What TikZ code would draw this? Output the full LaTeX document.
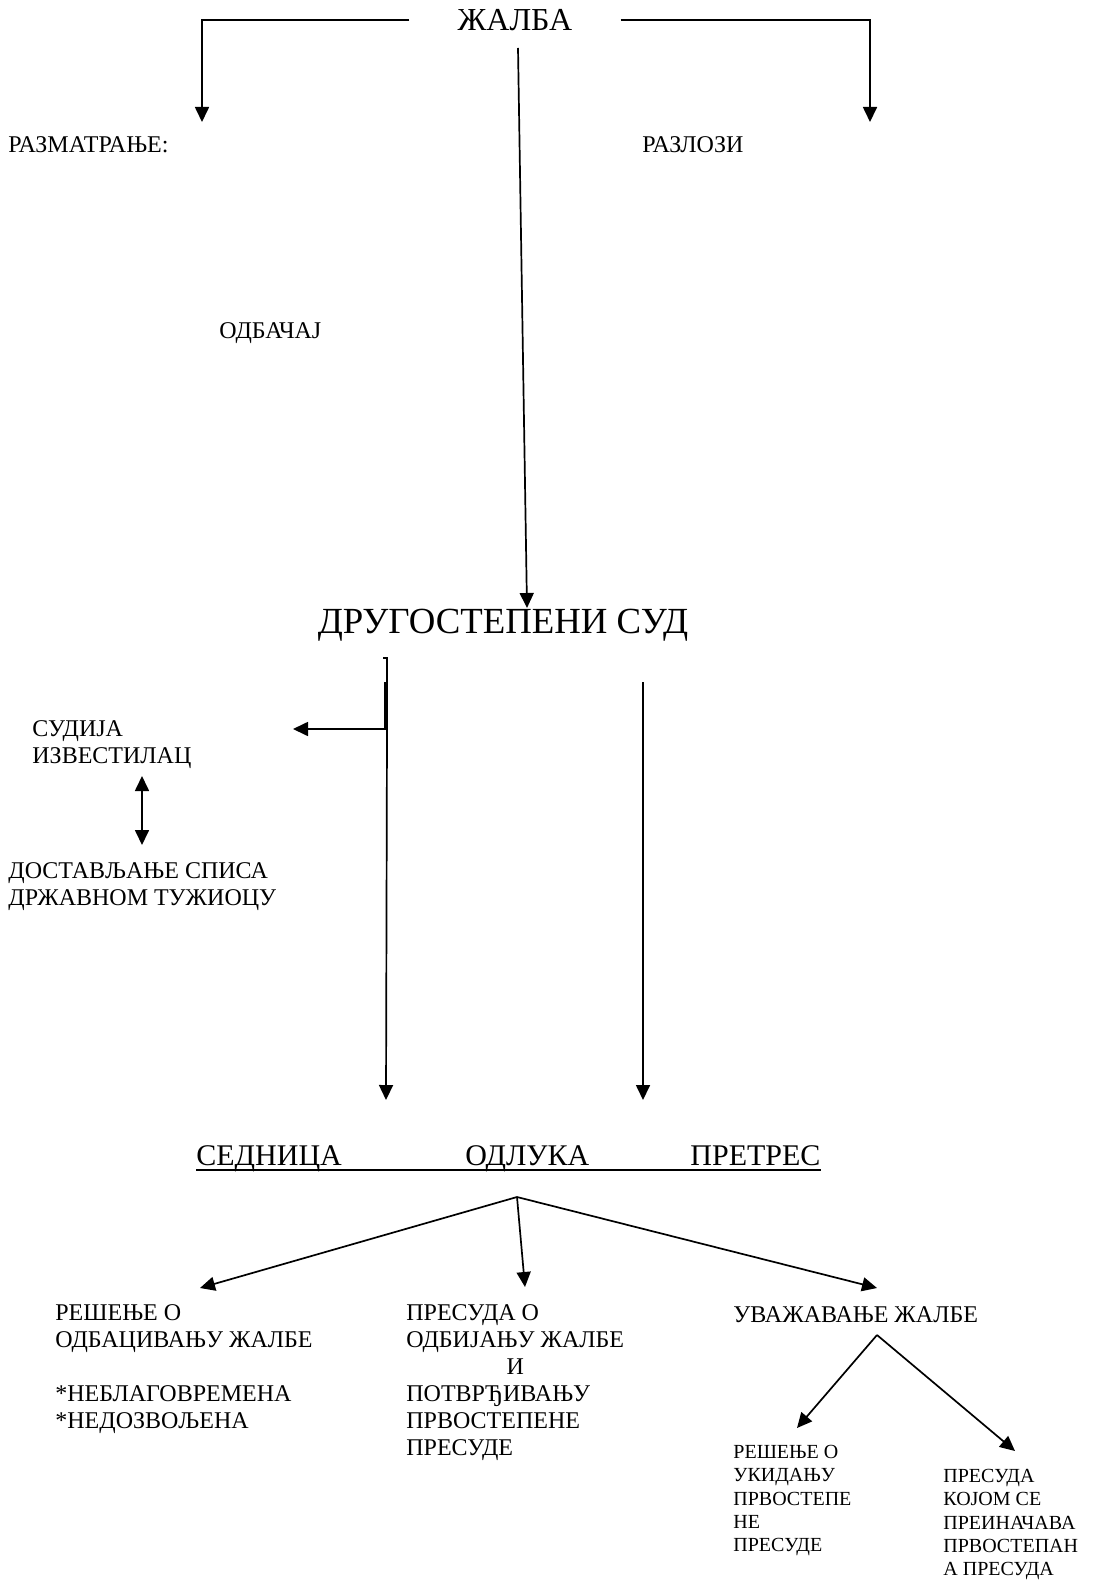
\documentclass[tikz,border=0pt]{standalone}
\usepackage{fontspec}
\setmainfont{Liberation Serif}
\usetikzlibrary{arrows.meta,positioning}
\tikzset{
  lbl/.style={inner sep=0pt, anchor=west, font=\fontsize{12}{13.5}\selectfont},
  blk/.style={inner sep=0pt, anchor=north west, align=left, font=\fontsize{12}{13.5}\selectfont},
  smallblk/.style={blk, font=\fontsize{10}{11.65}\selectfont},
  rowlbl/.style={inner sep=0pt, anchor=base west, font=\fontsize{15}{17}\selectfont},
  conn/.style={line width=0.85pt, -{Triangle[length=7.5pt,width=7pt]}},
  bothconn/.style={line width=0.85pt, {Triangle[length=7.5pt,width=7pt]}-{Triangle[length=7.5pt,width=7pt]}},
  plainconn/.style={line width=0.85pt}
}
\begin{document}
\begin{tikzpicture}[x=0.5pt,y=-0.5pt]
  \useasboundingbox (0,0) rectangle (1094,1583);

  \node[inner ysep=0pt, inner xsep=24pt, font=\fontsize{16}{18}\selectfont] (zalba) at (515,20) {ЖАЛБА};
  \node[lbl] (razmatranje) at (8,145) {РАЗМАТРАЊЕ:};
  \node[lbl] (razlozi) at (642,145) {РАЗЛОЗИ};
  \node[lbl] (odbacaj) at (219,333) {ОДБАЧАЈ};
  \node[inner sep=0pt, anchor=base, font=\fontsize{18.4}{21}\selectfont] (drugostepeni) at (503,633) {ДРУГОСТЕПЕНИ СУД};

  \node[blk] (sudija) at (32,720) {СУДИЈА\\ИЗВЕСТИЛАЦ};
  \node[blk] (dostavljanje) at (8,862) {ДОСТАВЉАЊЕ СПИСА\\ДРЖАВНОМ ТУЖИОЦУ};

  \node[rowlbl] (sednica) at (196,1165) {СЕДНИЦА};
  \node[rowlbl] (odluka) at (465,1165) {ОДЛУКА};
  \node[rowlbl] (pretres) at (690,1165) {ПРЕТРЕС};

  \node[blk] (resenje) at (55,1304) {РЕШЕЊЕ О\\ОДБАЦИВАЊУ ЖАЛБЕ\\[13.5pt]*НЕБЛАГОВРЕМЕНА\\*НЕДОЗВОЉЕНА};
  \node[blk] (presuda) at (406,1301) {\begin{tabular}{@{}l@{}}ПРЕСУДА О\\ОДБИЈАЊУ ЖАЛБЕ\\\multicolumn{1}{@{}c@{}}{И}\\ПОТВРЂИВАЊУ\\ПРВОСТЕПЕНЕ\\ПРЕСУДЕ\end{tabular}};
  \node[lbl] (uvazavanje) at (733,1315) {УВАЖАВАЊЕ ЖАЛБЕ};
  \node[smallblk] (ukidanje) at (733,1445) {РЕШЕЊЕ О\\УКИДАЊУ\\ПРВОСТЕПЕ\\НЕ\\ПРЕСУДЕ};
  \node[smallblk] (preinacava) at (943,1469) {ПРЕСУДА\\КОЈОМ СЕ\\ПРЕИНАЧАВА\\ПРВОСТЕПАН\\А ПРЕСУДА};

  \coordinate (razm-tip) at (202,122);
  \coordinate (razl-tip) at (870,122);
  \coordinate (zalba-foot) at (518,48);
  \coordinate (sud-tip) at (527,608);
  \coordinate (sud-tick) at (383,658);
  \coordinate (sud-top) at (387,658);
  \coordinate (sud-inner) at (385,682);
  \coordinate (sud-knee) at (387,729);
  \coordinate (sud-inner-end) at (385,729);
  \coordinate (sudija-tip) at (293,729);
  \coordinate (sednica-tip) at (386,1100);
  \coordinate (sud-right) at (643,682);
  \coordinate (pretres-tip) at (643,1100);
  \coordinate (izv-tip) at (142,776);
  \coordinate (dost-tip) at (142,845);
  \coordinate (odluka-root) at (517,1197);
  \coordinate (resenje-tip) at (200,1288);
  \coordinate (presuda-tip) at (525,1287);
  \coordinate (uvaz-tip) at (877,1288);
  \coordinate (uvaz-root) at (877,1335);
  \coordinate (ukid-tip) at (797,1428);
  \coordinate (prein-tip) at (1015,1451);

  \draw[conn] (zalba.west) -| (razm-tip);
  \draw[conn] (zalba.east) -| (razl-tip);
  \draw[conn] (zalba-foot) -- (sud-tip);

  \draw[plainconn] (sud-tick) -- (sud-top) -- (sud-knee);
  \draw[plainconn] (sud-inner) -- (sud-inner-end);
  \draw[conn] (sud-knee) -- (sudija-tip);
  \draw[conn] (sud-knee) -- (sednica-tip);
  \draw[conn] (sud-right) -- (pretres-tip);
  \draw[bothconn] (izv-tip) -- (dost-tip);

  \draw[line width=1pt] ([yshift=-2.5pt]sednica.base west) -- ([yshift=-2.5pt]pretres.base east);

  \draw[conn] (odluka-root) -- (resenje-tip);
  \draw[conn] (odluka-root) -- (presuda-tip);
  \draw[conn] (odluka-root) -- (uvaz-tip);
  \draw[conn] (uvaz-root) -- (ukid-tip);
  \draw[conn] (uvaz-root) -- (prein-tip);
\end{tikzpicture}
\end{document}
